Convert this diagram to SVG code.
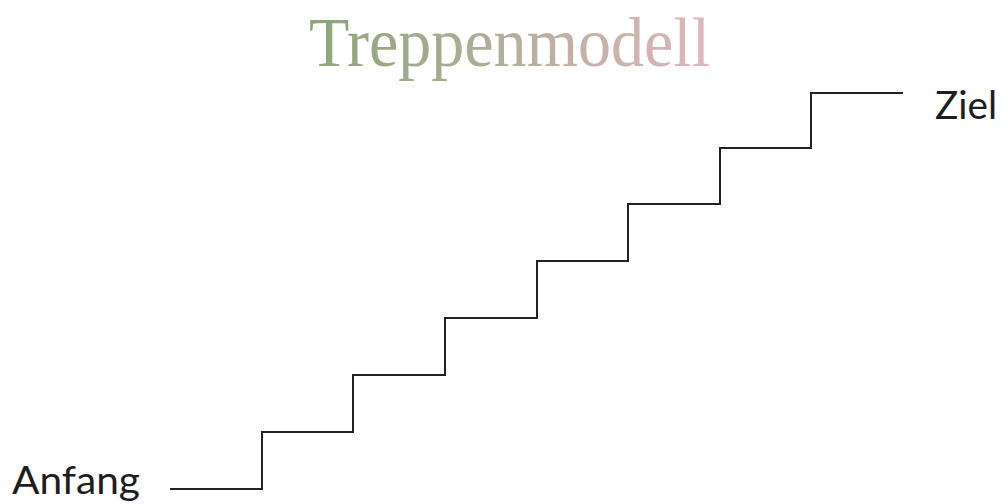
<svg xmlns="http://www.w3.org/2000/svg" width="1002" height="504" viewBox="0 0 1002 504">
<defs>
<linearGradient id="tg" x1="308" y1="0" x2="710" y2="0" gradientUnits="userSpaceOnUse">
<stop offset="0" stop-color="#8ba679"/>
<stop offset="1" stop-color="#dfb6bc"/>
</linearGradient>
</defs>
<style>
.lbl{font-family:"Lato","Liberation Sans",sans-serif;font-size:38px;fill:#1e1e1e}
.stair{fill:none;stroke:#222;stroke-width:2}
</style>
<rect width="1002" height="504" fill="#fff"/>
<g id="title"><text x="309" y="66" font-family="Liberation Serif, serif" font-size="70" fill="url(#tg)" textLength="401" lengthAdjust="spacingAndGlyphs">Treppenmodell</text></g>
<g id="connectors">
<path class="stair" d="M170 489 H262 V432 H353 V375 H445 V318 H537 V261 H628 V204 H720 V148 H811 V93 H903"/>
</g>
<g id="anfang"><text class="lbl" x="12" y="494" textLength="128" lengthAdjust="spacingAndGlyphs">Anfang</text></g>
<g id="ziel"><text class="lbl" x="935" y="119" textLength="62" lengthAdjust="spacingAndGlyphs">Ziel</text></g>
</svg>
